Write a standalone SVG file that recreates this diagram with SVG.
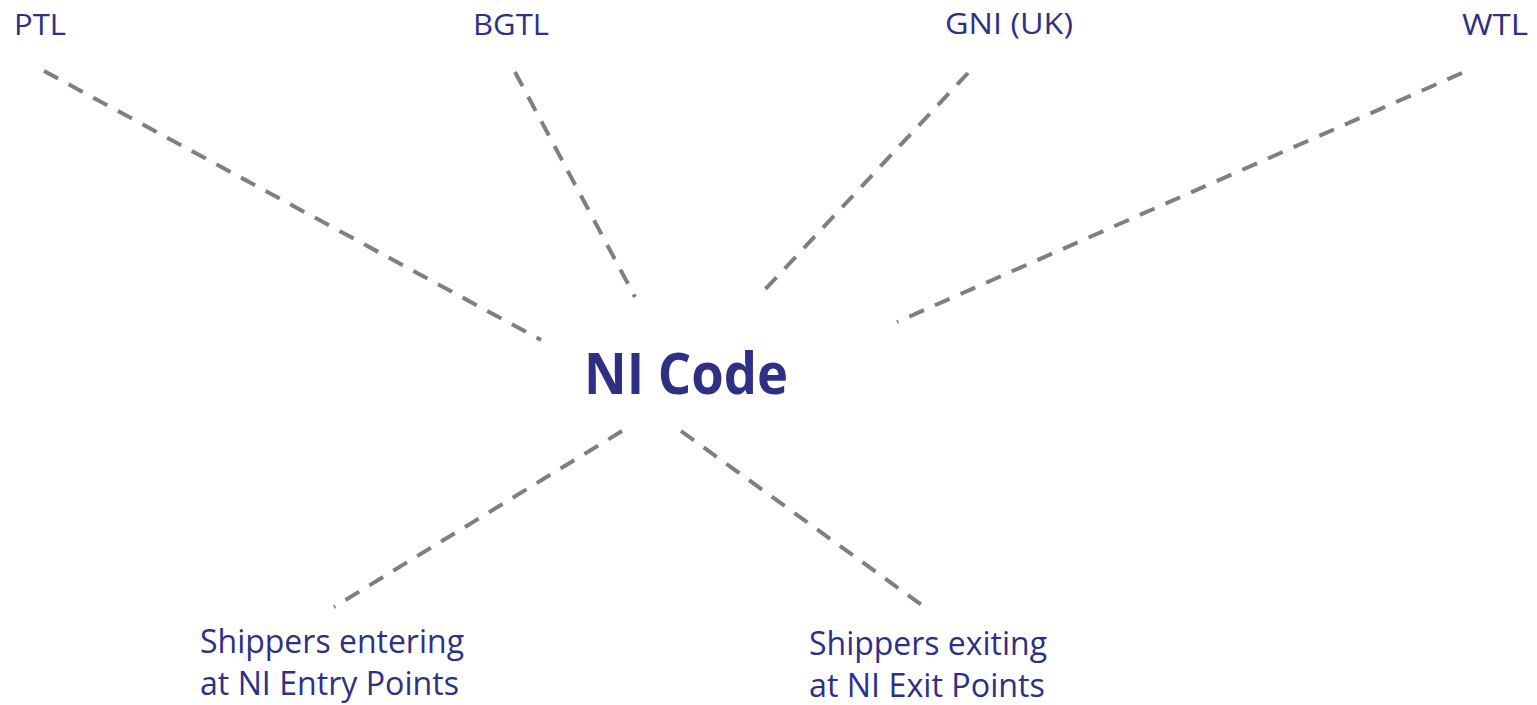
<svg xmlns="http://www.w3.org/2000/svg" width="1537" height="705" viewBox="0 0 1537 705">
<style>
.lbl{font-family:"Open Sans","Liberation Sans",sans-serif;font-size:29px;fill:#2E3085}
.big{font-size:32px}
.ttl{font-family:"Open Sans","Liberation Sans",sans-serif;font-size:57px;font-weight:bold;fill:#2E3085}
.con{stroke:#7F7F7F;stroke-width:4;stroke-dasharray:16 12;fill:none}
</style>
<rect width="1537" height="705" fill="#fff"/>
<g id="connectors">
<line class="con" x1="44" y1="71" x2="541" y2="340"/>
<line class="con" x1="515" y1="72" x2="635" y2="297"/>
<line class="con" x1="968" y1="73" x2="758" y2="297"/>
<line class="con" x1="1462" y1="73" x2="897" y2="322"/>
<line class="con" x1="622" y1="431" x2="334" y2="607"/>
<line class="con" x1="681" y1="431" x2="930" y2="611"/>
</g>
<g id="ptl"><text class="lbl" x="14" y="35" textLength="52" lengthAdjust="spacingAndGlyphs">PTL</text></g>
<g id="bgtl"><text class="lbl" x="473" y="35" textLength="76" lengthAdjust="spacingAndGlyphs">BGTL</text></g>
<g id="gni"><text class="lbl" x="945" y="34" textLength="128" lengthAdjust="spacingAndGlyphs">GNI (UK)</text></g>
<g id="wtl"><text class="lbl" x="1462" y="35" textLength="66" lengthAdjust="spacingAndGlyphs">WTL</text></g>
<g id="nicode"><text class="ttl" x="584" y="394" textLength="204" lengthAdjust="spacingAndGlyphs">NI Code</text></g>
<g id="entry">
<text class="lbl big" x="200" y="653" textLength="264" lengthAdjust="spacingAndGlyphs">Shippers entering</text>
<text class="lbl big" x="200" y="695" textLength="259" lengthAdjust="spacingAndGlyphs">at NI Entry Points</text>
</g>
<g id="exit">
<text class="lbl big" x="809" y="655" textLength="238" lengthAdjust="spacingAndGlyphs">Shippers exiting</text>
<text class="lbl big" x="809" y="697" textLength="236" lengthAdjust="spacingAndGlyphs">at NI Exit Points</text>
</g>
</svg>
